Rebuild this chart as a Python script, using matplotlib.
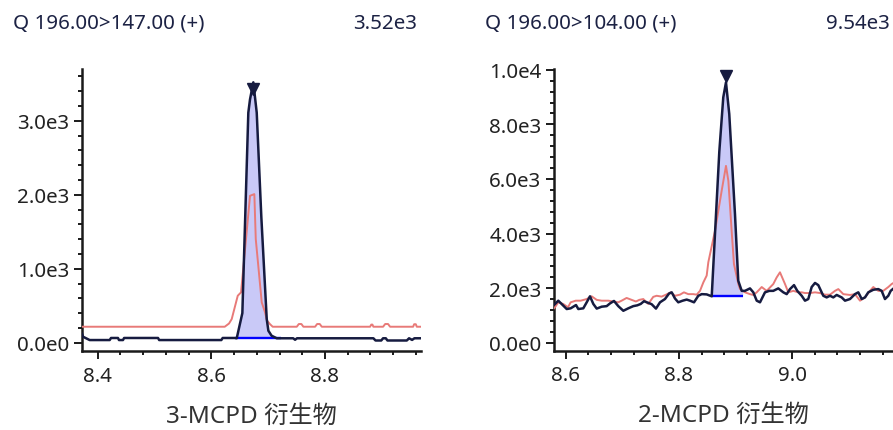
import numpy as np
import matplotlib
matplotlib.use("Agg")
import matplotlib.pyplot as plt
from matplotlib.ticker import MultipleLocator, FuncFormatter
import matplotlib.transforms as mtransforms

plt.rcParams['font.family'] = ['Noto Sans', 'Noto Sans CJK SC', 'DejaVu Sans']

# ---------------- data ----------------
titles = ["Q 196.00>147.00 (+)", "Q 196.00>104.00 (+)"]
peak_labels = ["3.52e3", "9.54e3"]
compound_labels = ["3-MCPD 衍生物", "2-MCPD 衍生物"]

# Left panel (3-MCPD derivative)
left_dark_t = [8.3724, 8.3742, 8.3859, 8.4211, 8.4235, 8.4357, 8.4375, 8.4445, 8.4465, 8.5062, 8.5082,
               8.6176, 8.6200, 8.6412, 8.6447, 8.6546, 8.6651, 8.6681, 8.6739, 8.6799, 8.6880,
               8.6975, 8.7004, 8.7060, 8.7151, 8.7440, 8.7474, 8.7508, 8.8852, 8.8890, 8.8990,
               8.9023, 8.9070, 8.9100, 8.9440, 8.9480, 8.9533, 8.9575, 8.9690]
left_dark_y = [120, 81, 36, 36, 64, 64, 36, 36, 64, 64, 36,
               36, 64, 64, 60, 400, 3110, 3290, 3520, 3110, 1700,
               320, 162, 95, 60, 60, 40, 60, 60, 30, 30,
               60, 60, 30, 30, 60, 38, 60, 60]
left_red_t = [8.3724, 8.6236, 8.6312, 8.6359, 8.6465, 8.6523, 8.6681, 8.6757, 8.6782, 8.6887,
              8.6945, 8.6980, 8.7030, 8.7080, 8.7504, 8.7540, 8.7585, 8.7620, 8.7826, 8.7862,
              8.7908, 8.7944, 8.8794, 8.8815, 8.8835, 8.8852, 8.9023, 8.9060, 8.9110, 8.9146,
              8.9551, 8.9570, 8.9598, 8.9616, 8.9690]
left_red_y = [216, 216, 260, 320, 635, 681, 1986, 2009, 1401, 546,
              411, 300, 253, 216, 216, 253, 253, 216, 216, 253,
              253, 216, 216, 245, 245, 216, 216, 253, 253, 216,
              216, 250, 250, 216, 216]
left_base = [(8.6412, 60), (8.7230, 60)]

# Right panel (2-MCPD derivative)
right_dark_t = [8.5788, 8.5811, 8.5869, 8.5929, 8.6018, 8.6088, 8.6182, 8.6223, 8.6311, 8.6371,
                8.6429, 8.6488, 8.6548, 8.6636, 8.6724, 8.6783, 8.6853, 8.6929, 8.7018, 8.7106,
                8.7194, 8.7265, 8.7325, 8.7383, 8.7459, 8.7519, 8.7595, 8.7666, 8.7754, 8.7825,
                8.7873, 8.7931, 8.7989, 8.8067, 8.8138, 8.8196, 8.8267, 8.8343, 8.8403, 8.8491,
                8.8580, 8.8714, 8.8784, 8.8832, 8.8890, 8.8991, 8.9049, 8.9110, 8.9168, 8.9256,
                8.9315, 8.9375, 8.9433, 8.9521, 8.9597, 8.9668, 8.9756, 8.9845, 8.9905, 8.9963,
                9.0034, 9.0092, 9.0170, 9.0228, 9.0286, 9.0346, 9.0405, 9.0463, 9.0551, 9.0611,
                9.0670, 9.0728, 9.0788, 9.0876, 9.0935, 9.1023, 9.1111, 9.1170, 9.1230, 9.1288,
                9.1346, 9.1435, 9.1523, 9.1583, 9.1641, 9.1700, 9.1742, 9.1800]
right_dark_y = [1380, 1417, 1540, 1417, 1234, 1260, 1380, 1234, 1260, 1480,
                1700, 1420, 1250, 1320, 1340, 1440, 1530, 1340, 1170, 1260,
                1340, 1370, 1420, 1520, 1460, 1410, 1250, 1480, 1600, 1800,
                1846, 1620, 1480, 1540, 1580, 1540, 1480, 1720, 1780, 1770,
                1700, 7000, 8990, 9540, 8380, 4710, 2270, 1900, 1900, 1990,
                1846, 1540, 1480, 1846, 1900, 1900, 1990, 1846, 1780, 1965,
                2110, 1900, 1720, 1540, 1600, 2040, 2190, 2110, 1720, 1660,
                1720, 1660, 1750, 1660, 1540, 1600, 1780, 1846, 1600, 1660,
                1846, 1940, 1965, 1900, 1600, 1720, 1900, 2000]
right_red_t = [8.5788, 8.5811, 8.5869, 8.5955, 8.6041, 8.6088, 8.6177, 8.6265, 8.6371, 8.6459,
               8.6548, 8.6636, 8.6754, 8.6842, 8.6929, 8.6988, 8.7076, 8.7165, 8.7241, 8.7300,
               8.7371, 8.7459, 8.7547, 8.7607, 8.7695, 8.7772, 8.7855, 8.7931, 8.8019, 8.8089,
               8.8166, 8.8254, 8.8314, 8.8373, 8.8432, 8.8491, 8.8520, 8.8638, 8.8756, 8.8832,
               8.8874, 8.8932, 8.8973, 8.9051, 8.9080, 8.9168, 8.9256, 8.9315, 8.9375, 8.9463,
               8.9551, 8.9668, 8.9727, 8.9786, 8.9875, 8.9933, 9.0022, 9.0110, 9.0170, 9.0228,
               9.0316, 9.0405, 9.0493, 9.0581, 9.0670, 9.0758, 9.0817, 9.0905, 9.1023, 9.1111,
               9.1200, 9.1288, 9.1376, 9.1435, 9.1523, 9.1611, 9.1700, 9.1759, 9.1800]
right_red_y = [1250, 1300, 1480, 1420, 1300, 1480, 1540, 1540, 1600, 1700,
               1570, 1540, 1540, 1510, 1480, 1540, 1640, 1570, 1510, 1570,
               1600, 1420, 1680, 1720, 1690, 1760, 1846, 1720, 1760, 1846,
               1780, 1780, 1760, 1900, 2210, 2460, 2950, 4100, 5570, 6480,
               5930, 4100, 2880, 2150, 1965, 1846, 1780, 1750, 1846, 2040,
               1900, 2150, 2390, 2580, 2150, 1846, 1900, 1846, 1846, 1820,
               1820, 1846, 1820, 1760, 1760, 1900, 1965, 1780, 1750, 1780,
               1540, 1660, 1900, 2040, 1900, 1900, 2040, 2150, 2200]
right_base = [(8.8580, 1700), (8.9127, 1700)]

# ---------------- style ----------------
DARK = "#161b40"
RED = "#e87a78"
FILL = "#c9c9f7"
BLUE = "#0000ff"
TXT = "#1c2244"
TICKTXT = "#222222"

W, H = 893, 431
fig = plt.figure(figsize=(W / 100, H / 100), dpi=100)


def px_axes(x0, y0, x1, y1):
    return fig.add_axes([x0 / W, 1 - y1 / H, (x1 - x0) / W, (y1 - y0) / H])


def fmt(v, pos):
    if abs(v) < 1e-9:
        return "0.0e0"
    e = int(np.floor(np.log10(abs(v))))
    m = v / 10 ** e
    return f"{m:.1f}e{e}"


panels = [
    dict(box=(82, 70, 421, 352), xlim=(8.3724, 8.969), ylim=(-112, 3700),
         ymaj=1000, ymin=200, t=left_dark_t, y=left_dark_y, rt=left_red_t, ry=left_red_y,
         base=left_base, moff=-7, title_x=13, val_x=417),
    dict(box=(553.7, 70, 893, 351.7), xlim=(8.5788, 9.1783), ylim=(-293, 10030),
         ymaj=2000, ymin=400, t=right_dark_t, y=right_dark_y, rt=right_red_t, ry=right_red_y,
         base=right_base, moff=6, title_x=485, val_x=890),
]

for i, p in enumerate(panels):
    ax = px_axes(*p["box"])
    t = np.array(p["t"]); y = np.array(p["y"])
    rt = np.array(p["rt"]); ry = np.array(p["ry"])
    (b0, bv0), (b1, bv1) = p["base"]
    # integration area
    m = (t > b0) & (t < b1)
    ft = np.concatenate([[b0], t[m], [b1]])
    fy = np.concatenate([[np.interp(b0, t, y)], y[m], [np.interp(b1, t, y)]])
    fb = np.interp(ft, [b0, b1], [bv0, bv1])
    ax.fill_between(ft, fy, fb, color=FILL, lw=0, zorder=1)
    ax.plot([b0, b1], [bv0, bv1], color=BLUE, lw=1.7, zorder=2, solid_capstyle='butt')
    ax.plot(rt, ry, color=RED, lw=1.4, zorder=3)
    ax.plot(t, y, color=DARK, lw=1.8, zorder=4)
    k = int(np.argmax(y))
    off = mtransforms.offset_copy(ax.transData, fig=fig, x=0, y=p["moff"], units='dots')
    ax.plot([t[k]], [y[k]], marker='v', color=DARK, ms=8, transform=off, zorder=5, clip_on=False)

    ax.set_xlim(*p["xlim"]); ax.set_ylim(*p["ylim"])
    ax.xaxis.set_major_locator(MultipleLocator(0.2))
    ax.xaxis.set_minor_locator(MultipleLocator(0.04))
    ax.yaxis.set_major_locator(MultipleLocator(p["ymaj"]))
    ax.yaxis.set_minor_locator(MultipleLocator(p["ymin"]))
    ax.xaxis.set_major_formatter(FuncFormatter(lambda v, pos: f"{v:.1f}"))
    ax.yaxis.set_major_formatter(FuncFormatter(fmt))
    for s in ("top", "right"):
        ax.spines[s].set_visible(False)
    for s in ("left", "bottom"):
        ax.spines[s].set_linewidth(1.8)
        ax.spines[s].set_color("#1a1a1a")
    ax.tick_params(which='major', length=5.5, width=1.4, color="#1a1a1a",
                   labelsize=14.8, labelcolor=TICKTXT, pad=3.5)
    ax.tick_params(which='minor', length=3, width=1.4, color="#1a1a1a")
    ax.tick_params(axis='x', which='major', pad=5)
    ax.set_xlabel(compound_labels[i], fontsize=17.5, color="#333333", labelpad=13,
                  family=['Noto Sans', 'Noto Sans CJK SC'])

    fig.text(p["title_x"] / W, 1 - 24 / H, titles[i], fontsize=14.8, color=TXT,
             ha='left', va='center')
    fig.text(p["val_x"] / W, 1 - 24 / H, peak_labels[i], fontsize=14.8, color=TXT,
             ha='right', va='center')

fig.savefig("out.png", dpi=100)
